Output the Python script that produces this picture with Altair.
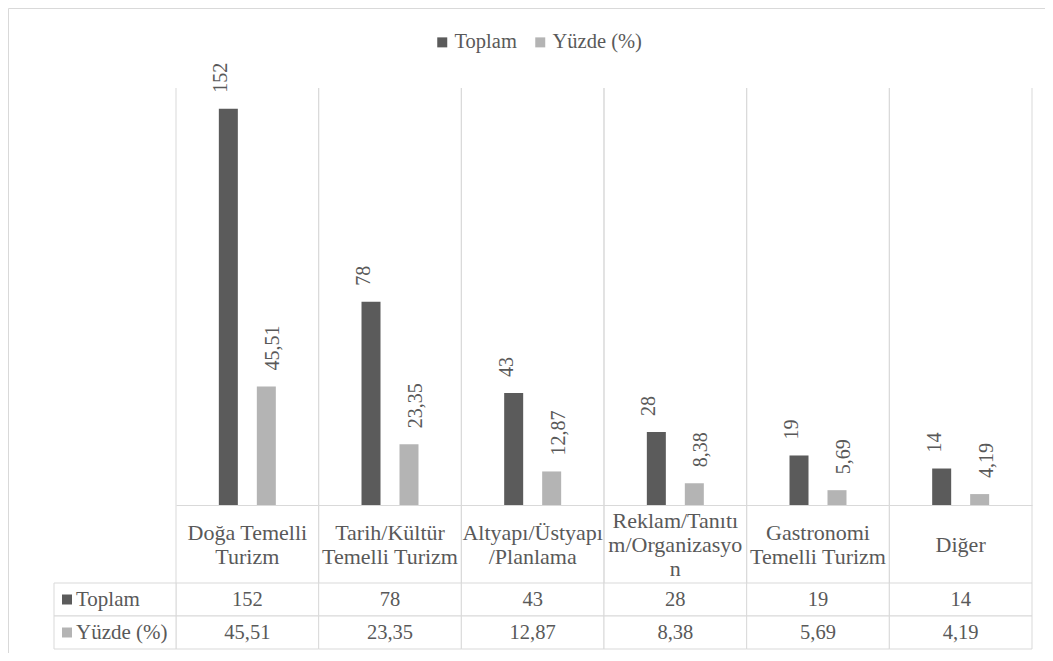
import json
import altair as alt
import pandas as pd

categories = ["Doğa Temelli Turizm", "Tarih/Kültür Temelli Turizm", "Altyapı/Üstyapı/Planlama",
              "Reklam/Tanıtım/Organizasyon", "Gastronomi Temelli Turizm", "Diğer"]
header_lines = [["Doğa Temelli", "Turizm"], ["Tarih/Kültür", "Temelli Turizm"],
                ["Altyapı/Üstyapı", "/Planlama"], ["Reklam/Tanıtı", "m/Organizasyo", "n"],
                ["Gastronomi", "Temelli Turizm"], ["Diğer"]]
series_names = ["Toplam", "Yüzde (%)"]
toplam = [152, 78, 43, 28, 19, 14]
yuzde = [45.51, 23.35, 12.87, 8.38, 5.69, 4.19]
series_colors = ["#5b5b5b", "#b4b4b4"]

W, H = 856, 417
GRID = "#d9d9d9"
TXT = "#595959"
FONT = "'Liberation Serif', 'Times New Roman', Tinos, 'DejaVu Serif', serif"

rows = []
for c, t, p in zip(categories, toplam, yuzde):
    rows.append({"cat": c, "series": series_names[0], "value": t})
    rows.append({"cat": c, "series": series_names[1], "value": p})
df = pd.DataFrame(rows)
cat_df = pd.DataFrame({"cat": categories})
hdr_df = pd.DataFrame({"series": series_names, "col": ["lbl"] * 2})
frame_df = pd.DataFrame({"a": [0]})

label_calc = ("datum.series == 'Toplam' ? format(datum.value, 'd') : "
              "replace(format(datum.value, '.2f'), '.', ',')")

expr = "datum.label"
for c, lines in reversed(list(zip(categories, header_lines))):
    expr = f"datum.label == {json.dumps(c, ensure_ascii=False)} ? {json.dumps(lines, ensure_ascii=False)} : ({expr})"

three_line = [c for c, l in zip(categories, header_lines) if len(l) == 3]
two_line = [c for c, l in zip(categories, header_lines) if len(l) == 2]
label_padding = {
    "condition": [
        {"test": f"indexof({json.dumps(three_line, ensure_ascii=False)}, datum.value) >= 0", "value": 15},
        {"test": f"indexof({json.dumps(two_line, ensure_ascii=False)}, datum.value) >= 0", "value": 27},
    ],
    "value": 39,
}

xs = alt.Scale(domain=categories, paddingInner=0, paddingOuter=0)
xoff = alt.Scale(domain=series_names, paddingInner=0, paddingOuter=0.878)
ys = alt.Scale(domain=[0, 160])
row_scale = alt.Scale(domain=series_names, range=[495, 561], paddingInner=0, paddingOuter=0)
sq_row_scale = alt.Scale(domain=series_names, range=[495, 561], paddingInner=0.697, paddingOuter=0.3485)
col_scale = alt.Scale(domain=["lbl"], range=[-122, 0], paddingInner=0, paddingOuter=0)
sq_col_scale = alt.Scale(domain=["lbl"], range=[-114, -104], paddingInner=0, paddingOuter=0)
color_scale = alt.Scale(domain=series_names, range=series_colors)
color = alt.Color("series:N", scale=color_scale,
                  legend=alt.Legend(title=None, orient="none", legendX=256, legendY=-56,
                                    direction="horizontal", symbolType="square", symbolSize=100,
                                    symbolStrokeWidth=0, labelFontSize=20.5, labelColor=TXT,
                                    labelFont=FONT, columnPadding=13, labelOffset=2, padding=0,
                                    symbolOffset=0))

frame = alt.Chart(frame_df).mark_rect(fill="white", stroke=GRID, strokeWidth=1).encode(
    x=alt.value(-167.5), x2=alt.value(900), y=alt.value(-79.5), y2=alt.value(700))

vrule0 = alt.Chart(cat_df).mark_rule(color=GRID, strokeWidth=1).encode(
    x=alt.X("cat:N", scale=xs, bandPosition=0, axis=None),
    y=alt.value(0), y2=alt.value(495))
vrule1 = alt.Chart(cat_df).mark_rule(color=GRID, strokeWidth=1).encode(
    x=alt.X("cat:N", scale=xs, bandPosition=1, axis=None),
    y=alt.value(0), y2=alt.value(495))

bars = alt.Chart(df).mark_bar(size=19).encode(
    x=alt.X("cat:N", scale=xs, sort=categories,
            axis=alt.Axis(title=None, orient="bottom", ticks=False, tickSize=0, domain=True,
                          domainColor=GRID, domainWidth=1, labelPadding=label_padding,
                          labelBaseline="middle",
                          labelFontSize=22, labelColor=TXT, labelFont=FONT, labelExpr=expr,
                          labelLimit=0, labelOverlap=False, labelAngle=0, labelLineHeight=24,
                          grid=False, zindex=1)),
    xOffset=alt.XOffset("series:N", scale=xoff),
    y=alt.Y("value:Q", scale=ys, axis=None),
    color=color)

bar_labels = alt.Chart(df).transform_calculate(label=label_calc).mark_text(
    angle=270, align="left", baseline="middle", dx=16, fontSize=20, color=TXT, font=FONT).encode(
    x=alt.X("cat:N", scale=xs, axis=None),
    xOffset=alt.XOffset("series:N", scale=xoff),
    y=alt.Y("value:Q", scale=ys, axis=None),
    text="label:N")

cells = alt.Chart(df).mark_rect(fill="white", stroke=GRID, strokeWidth=1).encode(
    x=alt.X("cat:N", scale=xs, axis=None),
    y=alt.Y("series:N", scale=row_scale, axis=None))

cell_text = alt.Chart(df).transform_calculate(label=label_calc).mark_text(
    baseline="middle", fontSize=20.5, color=TXT, font=FONT).encode(
    x=alt.X("cat:N", scale=xs, axis=None),
    y=alt.Y("series:N", scale=row_scale, axis=None),
    text="label:N")

hdr_cells = alt.Chart(hdr_df).mark_rect(fill="white", stroke=GRID, strokeWidth=1).encode(
    x=alt.X("col:N", scale=col_scale, axis=None),
    y=alt.Y("series:N", scale=row_scale, axis=None))

hdr_sq = alt.Chart(hdr_df).mark_rect(strokeWidth=0).encode(
    x=alt.X("col:N", scale=sq_col_scale, axis=None),
    y=alt.Y("series:N", scale=sq_row_scale, axis=None),
    color=alt.Color("series:N", scale=color_scale, legend=None))

hdr_text = alt.Chart(hdr_df).mark_text(
    align="left", baseline="middle", dx=-39, fontSize=21, color=TXT, font=FONT).encode(
    x=alt.X("col:N", scale=col_scale, axis=None),
    y=alt.Y("series:N", scale=row_scale, axis=None),
    text="series:N")

chart = alt.layer(frame, vrule0, vrule1, cells, hdr_cells, bars, bar_labels, cell_text,
                  hdr_sq, hdr_text).resolve_scale(
    x="independent", y="independent", xOffset="independent"
).properties(
    width=W, height=H,
    autosize=alt.AutoSizeParams(type="none"),
    padding={"left": 168, "top": 80, "right": 13, "bottom": 148},
).configure_view(stroke=None).configure(font=FONT)

chart.save("out.html", embed_options={"renderer": "svg", "actions": False})
